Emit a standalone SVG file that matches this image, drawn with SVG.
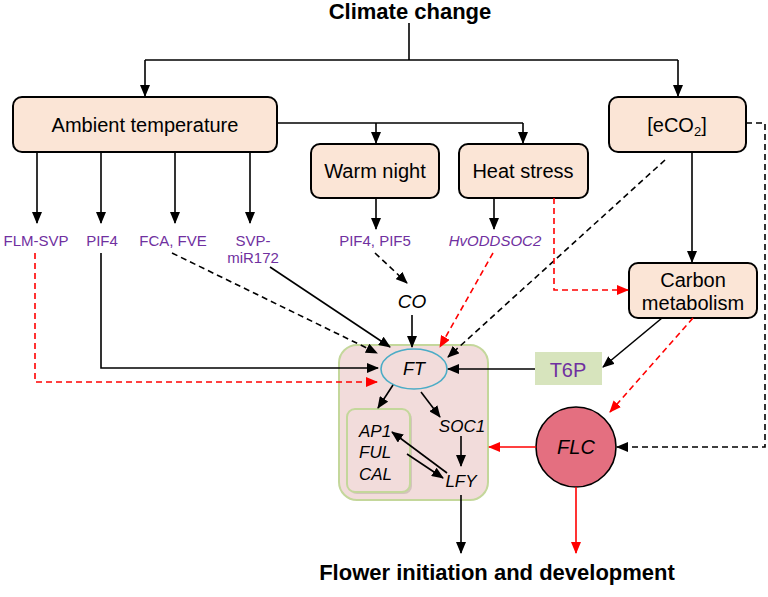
<svg xmlns="http://www.w3.org/2000/svg" width="768" height="597" viewBox="0 0 768 597">
<style>
text{font-family:"Liberation Sans",Arial,sans-serif;fill:#000}
.box{fill:#fbe5d6;stroke:#000;stroke-width:2}
.lbl{font-size:15px;fill:#7030a0;text-anchor:middle}
.big{font-size:20px;text-anchor:middle}
.it{font-style:italic}
.ln{fill:none;stroke:#000;stroke-width:1.6}
.dk{fill:none;stroke:#000;stroke-width:1.6;stroke-dasharray:6 4}
.rd{fill:none;stroke:#ff0000;stroke-width:1.6;stroke-dasharray:6 4}
.rs{fill:none;stroke:#ff0000;stroke-width:1.6}
</style>
<defs>
<marker id="ab" markerUnits="userSpaceOnUse" markerWidth="12" markerHeight="10" refX="11" refY="5" orient="auto"><path d="M0,0 L12,5 L0,10 z" fill="#000"/></marker>
<marker id="ar" markerUnits="userSpaceOnUse" markerWidth="12" markerHeight="10" refX="11" refY="5" orient="auto"><path d="M0,0 L12,5 L0,10 z" fill="#ff0000"/></marker>
</defs>
<rect width="768" height="597" fill="#fff"/>

<g id="title"><text x="410" y="19" font-size="22" font-weight="bold" text-anchor="middle">Climate change</text></g>

<g id="core">
<rect x="339" y="345" width="149" height="155" rx="18" fill="#f2dcdb" stroke="#c4d79b" stroke-width="2"/>
</g>
<g id="ambient"><rect class="box" x="13" y="97" width="264" height="55" rx="9"/><text class="big" x="145" y="132">Ambient temperature</text></g>
<g id="eco2"><rect class="box" x="609" y="97" width="137" height="55" rx="9"/><text class="big" x="677" y="132">[eCO<tspan font-size="13" dy="4">2</tspan><tspan dy="-4">]</tspan></text></g>
<g id="warmnight"><rect class="box" x="311" y="144" width="128" height="54" rx="9"/><text class="big" x="375" y="178">Warm night</text></g>
<g id="heatstress"><rect class="box" x="459" y="144" width="129" height="54" rx="9"/><text class="big" x="523" y="178">Heat stress</text></g>
<g id="carbon"><rect class="box" x="629" y="263" width="128" height="55" rx="9"/><text class="big" x="693" y="287">Carbon</text><text class="big" x="693" y="310">metabolism</text></g>

<g id="flmsvp"><text class="lbl" x="36" y="246">FLM-SVP</text></g>
<g id="pif4"><text class="lbl" x="102" y="246">PIF4</text></g>
<g id="fcafve"><text class="lbl" x="173" y="246">FCA, FVE</text></g>
<g id="svpmir"><text class="lbl" x="253" y="246">SVP-</text><text class="lbl" x="253" y="263">miR172</text></g>
<g id="pif45"><text class="lbl" x="375" y="246">PIF4, PIF5</text></g>
<g id="hvodd"><text class="lbl it" x="495" y="246">HvODDSOC2</text></g>
<g id="co"><text class="it" x="412" y="308" font-size="19" text-anchor="middle">CO</text></g>
<g id="t6p"><rect x="535" y="352" width="67" height="33" fill="#d7e4bd"/><text x="568" y="377" font-size="20" fill="#7030a0" text-anchor="middle" style="fill:#7030a0">T6P</text></g>
<g id="ft"><ellipse cx="414" cy="369" rx="33" ry="20" fill="#f2dcdb" stroke="#4bacc6" stroke-width="1.6"/><text class="it" x="414" y="375" font-size="18" text-anchor="middle">FT</text></g>
<g id="apful">
<rect x="349" y="411" width="63" height="83" rx="8" fill="#bfb3a8" opacity="0.6"/>
<rect x="347" y="409" width="63" height="83" rx="8" fill="#f2dcdb" stroke="#c4d79b" stroke-width="2"/>
<text class="it" x="359" y="437" font-size="17">AP1</text><text class="it" x="359" y="458" font-size="17">FUL</text><text class="it" x="359" y="480" font-size="17">CAL</text>
</g>
<g id="soc1"><text class="it" x="462" y="432" font-size="17" text-anchor="middle">SOC1</text></g>
<g id="lfy"><text class="it" x="461" y="487" font-size="17" text-anchor="middle">LFY</text></g>
<g id="flc"><circle cx="576" cy="447" r="40" fill="#e46f80" stroke="#000" stroke-width="1.6"/><text class="it" x="576" y="454" font-size="20" text-anchor="middle">FLC</text></g>
<g id="flower"><text x="497" y="580" font-size="22" font-weight="bold" text-anchor="middle">Flower initiation and development</text></g>

<g id="connectors">
<path class="ln" d="M409,23 V60"/>
<path class="ln" d="M145,60 H678"/>
<path class="ln" d="M145,60 V96" marker-end="url(#ab)"/>
<path class="ln" d="M678,60 V96" marker-end="url(#ab)"/>
<path class="ln" d="M277,123 H523"/>
<path class="ln" d="M376,123 V143" marker-end="url(#ab)"/>
<path class="ln" d="M523,123 V143" marker-end="url(#ab)"/>
<path class="ln" d="M37,152 V223" marker-end="url(#ab)"/>
<path class="ln" d="M101,152 V223" marker-end="url(#ab)"/>
<path class="ln" d="M175,152 V223" marker-end="url(#ab)"/>
<path class="ln" d="M250,152 V223" marker-end="url(#ab)"/>
<path class="ln" d="M376,198 V229" marker-end="url(#ab)"/>
<path class="ln" d="M494,198 V229" marker-end="url(#ab)"/>
<path class="ln" d="M692,152 V262" marker-end="url(#ab)"/>
<path class="rd" d="M35,253 V382 H377" marker-end="url(#ar)"/>
<path class="ln" d="M101,253 V368 H378" marker-end="url(#ab)"/>
<path class="dk" d="M172,253 L377,353" marker-end="url(#ab)"/>
<path class="ln" d="M270,267 L390,347" marker-end="url(#ab)"/>
<path class="dk" d="M375,253 L407,283" marker-end="url(#ab)"/>
<path class="ln" d="M412,315 V347" marker-end="url(#ab)"/>
<path class="rd" d="M493,253 L440,347" marker-end="url(#ar)"/>
<path class="dk" d="M665,160 L448,357" marker-end="url(#ab)"/>
<path class="rd" d="M554,198 V290 H628" marker-end="url(#ar)"/>
<path class="ln" d="M662,318 L603,367" marker-end="url(#ab)"/>
<path class="ln" d="M535,369 H448" marker-end="url(#ab)"/>
<path class="rd" d="M693,318 L610,412" marker-end="url(#ar)"/>
<path class="dk" d="M746,123 H765 V447 H617" marker-end="url(#ab)"/>
<path class="ln" d="M393,385 L378,408" marker-end="url(#ab)"/>
<path class="ln" d="M421,392 L440,417" marker-end="url(#ab)"/>
<path class="ln" d="M461,436 V466" marker-end="url(#ab)"/>
<path class="ln" d="M447,473 L392,432" marker-end="url(#ab)"/>
<path class="ln" d="M407,454 L443,478" marker-end="url(#ab)"/>
<path class="ln" d="M461,495 V553" marker-end="url(#ab)"/>
<path class="rs" d="M536,447 H489" marker-end="url(#ar)"/>
<path class="rs" d="M576,487 V553" marker-end="url(#ar)"/>
</g>
</svg>
